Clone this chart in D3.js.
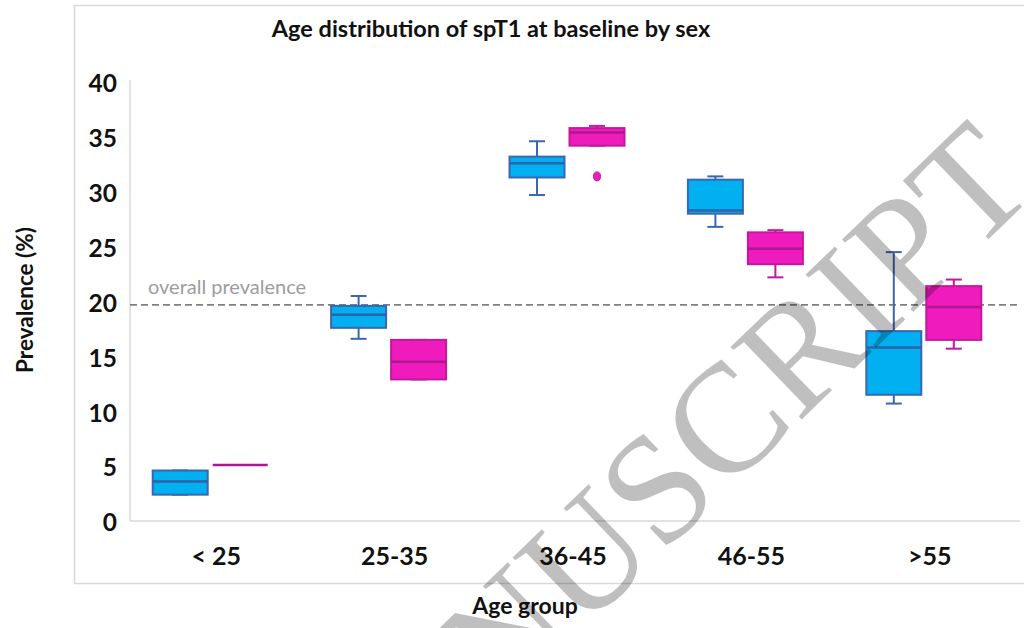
<!DOCTYPE html>
<html>
<head>
<meta charset="utf-8">
<script src="https://cdn.jsdelivr.net/npm/d3@7"></script>
<style>
  html, body { margin: 0; padding: 0; background: #fff; }
  svg { display: block; }
</style>
</head>
<body>
<svg id="chart" width="1024" height="628"></svg>
<script>
// Age groups and the two sexes plotted side by side
const ageGroups = ["< 25", "25-35", "36-45", "46-55", ">55"];
const sexes = ["Male", "Female"];

// Five-number summaries per group: [min, q1, median, q3, max]
const maleStats = [
  [2.4, 2.4, 3.6, 4.6, 4.6],
  [16.6, 17.6, 18.8, 19.6, 20.5],
  [29.7, 31.3, 32.6, 33.2, 34.6],
  [26.8, 28.0, 28.3, 31.1, 31.4],
  [10.7, 11.5, 15.8, 17.3, 24.5]
];
const femaleStats = [
  [5.1, 5.1, 5.1, 5.1, 5.1],
  [12.9, 12.9, 14.5, 16.5, 16.5],
  [34.2, 34.2, 35.4, 35.8, 36.0],
  [22.2, 23.4, 24.8, 26.3, 26.5],
  [15.7, 16.5, 19.5, 21.4, 22.0]
];
// Outlying observations: [group, sex, value]
const outliers = [["36-45", "Female", 31.4]];

const yTicks = [0, 5, 10, 15, 20, 25, 30, 35, 40];
const overallPrevalence = 19.7;

const colors = {
  Male:   { fill: "#00b0f0", stroke: "#3b66b0", median: "#2f62a8" },
  Female: { fill: "#f01bbd", stroke: "#c2199e", median: "#b01690" }
};

const sans = "Lato, 'Open Sans', Arial, sans-serif";
const svg = d3.select("#chart");

// Outer chart frame
svg.append("rect")
  .attr("x", 74.5).attr("y", 5.5)
  .attr("width", 1000).attr("height", 578)
  .attr("fill", "none").attr("stroke", "#d9d9d9").attr("stroke-width", 1.5);

const y = d3.scaleLinear().domain([0, 40]).range([521, 82]);
const x = d3.scaleBand().domain(ageGroups).range([127, 1019]);
const xSex = d3.scalePoint().domain(sexes).range([-36, 24]);
const boxW = 55, capW = 16;

// Axis lines
svg.append("line")
  .attr("x1", 130).attr("x2", 130).attr("y1", y(40) - 2).attr("y2", y(0))
  .attr("stroke", "#d9d9d9").attr("stroke-width", 1.5);
svg.append("line")
  .attr("x1", 130).attr("x2", 1020).attr("y1", y(0)).attr("y2", y(0))
  .attr("stroke", "#d9d9d9").attr("stroke-width", 1.5);

// Y axis labels
const yAxis = svg.append("g")
  .attr("transform", "translate(130,0)")
  .call(d3.axisLeft(y).tickValues(yTicks).tickSize(0).tickPadding(13).tickFormat(d3.format("d")));
yAxis.select(".domain").remove();
yAxis.selectAll("text")
  .style("font-family", sans)
  .style("font-size", "24.5px").style("font-weight", 700).attr("fill", "#111")
  .attr("dy", "0.4em");

// X axis labels
const xAxis = svg.append("g")
  .attr("transform", `translate(0,${y(0)})`)
  .call(d3.axisBottom(x).tickSize(0).tickPadding(26));
xAxis.select(".domain").remove();
xAxis.selectAll("text")
  .style("font-family", sans)
  .style("font-size", "25px").style("font-weight", 700).attr("fill", "#111");

// Overall prevalence reference line
svg.append("line")
  .attr("x1", 130).attr("x2", 1018)
  .attr("y1", y(overallPrevalence)).attr("y2", y(overallPrevalence))
  .attr("stroke", "#7f7f7f").attr("stroke-width", 1.8)
  .attr("stroke-dasharray", "7,4");
svg.append("text")
  .attr("x", 148).attr("y", y(overallPrevalence) - 11)
  .style("font-family", sans).style("font-size", "20px").attr("fill", "#9d9d9d")
  .text("overall prevalence");

// Box plots
const boxes = [];
ageGroups.forEach((g, i) => {
  boxes.push({ group: g, sex: "Male", s: maleStats[i] });
  boxes.push({ group: g, sex: "Female", s: femaleStats[i] });
});

const bg = svg.append("g").selectAll("g").data(boxes).join("g")
  .attr("transform", d => `translate(${x(d.group) + x.bandwidth() / 2 + xSex(d.sex)},0)`);

// whiskers
bg.append("line")
  .attr("x1", 0).attr("x2", 0)
  .attr("y1", d => y(d.s[3])).attr("y2", d => y(d.s[4]))
  .attr("stroke", d => colors[d.sex].stroke).attr("stroke-width", 2);
bg.append("line")
  .attr("x1", 0).attr("x2", 0)
  .attr("y1", d => y(d.s[1])).attr("y2", d => y(d.s[0]))
  .attr("stroke", d => colors[d.sex].stroke).attr("stroke-width", 2);
bg.append("line")
  .attr("x1", -capW / 2).attr("x2", capW / 2)
  .attr("y1", d => y(d.s[4])).attr("y2", d => y(d.s[4]))
  .attr("stroke", d => colors[d.sex].stroke).attr("stroke-width", 2);
bg.append("line")
  .attr("x1", -capW / 2).attr("x2", capW / 2)
  .attr("y1", d => y(d.s[0])).attr("y2", d => y(d.s[0]))
  .attr("stroke", d => colors[d.sex].stroke).attr("stroke-width", 2);
// interquartile box
bg.append("rect")
  .attr("x", -boxW / 2).attr("width", boxW)
  .attr("y", d => y(d.s[3])).attr("height", d => y(d.s[1]) - y(d.s[3]))
  .attr("fill", d => colors[d.sex].fill)
  .attr("stroke", d => colors[d.sex].stroke).attr("stroke-width", 2);
// median
bg.append("line")
  .attr("x1", -boxW / 2).attr("x2", boxW / 2)
  .attr("y1", d => y(d.s[2])).attr("y2", d => y(d.s[2]))
  .attr("stroke", d => colors[d.sex].median).attr("stroke-width", 2.5);

// outliers
svg.append("g").selectAll("ellipse").data(outliers).join("ellipse")
  .attr("cx", d => x(d[0]) + x.bandwidth() / 2 + xSex(d[1]))
  .attr("cy", d => y(d[2]))
  .attr("rx", 3.5).attr("ry", 4.5)
  .attr("fill", d => colors[d[1]].fill)
  .attr("stroke", d => colors[d[1]].stroke).attr("stroke-width", 1);

// Titles
svg.append("text")
  .attr("x", 491).attr("y", 37).attr("text-anchor", "middle")
  .style("font-family", sans).style("font-size", "23.5px").style("font-weight", 700).attr("fill", "#111")
  .text("Age distribution of spT1 at baseline by sex");
svg.append("text")
  .attr("x", 525).attr("y", 614).attr("text-anchor", "middle")
  .style("font-family", sans).style("font-size", "23px").style("font-weight", 700).attr("fill", "#111")
  .text("Age group");
svg.append("text")
  .attr("transform", "translate(33,300) rotate(-90)")
  .attr("text-anchor", "middle")
  .style("font-family", sans).style("font-size", "22.5px").style("font-weight", 700).attr("fill", "#111")
  .text("Prevalence (%)");

// Diagonal watermark over the plot
svg.append("text")
  .attr("transform", "translate(680,537) rotate(-44)")
  .attr("text-anchor", "middle")
  .style("font-family", "'Liberation Serif', 'Times New Roman', 'DejaVu Serif', serif")
  .style("font-size", "155px")
  .attr("fill", "#000").attr("fill-opacity", 0.25)
  .text("MANUSCRIPT");
</script>
</body>
</html>
